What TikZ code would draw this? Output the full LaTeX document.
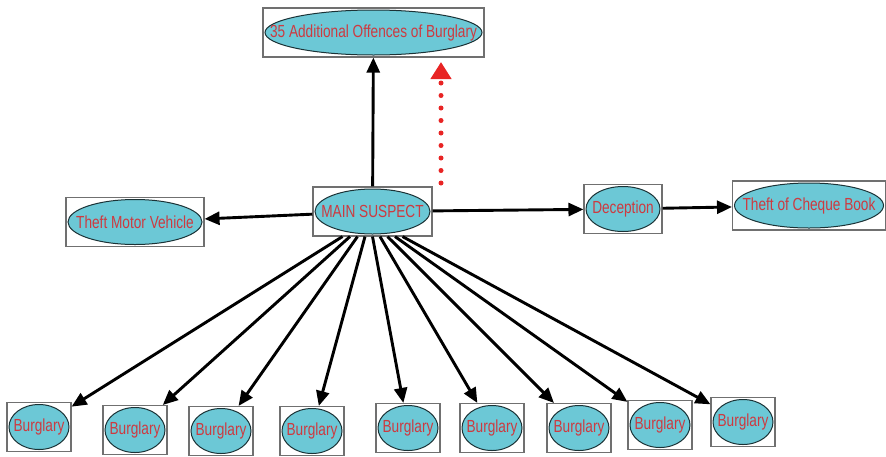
\documentclass[tikz,border=0pt]{standalone}
\usepackage{fontspec}
\setmainfont{Liberation Sans}
\usepackage{tikz}
\usetikzlibrary{arrows.meta}

\definecolor{ellcyan}{RGB}{108,200,214}
\definecolor{lblred}{RGB}{205,58,64}
\definecolor{dotred}{RGB}{232,36,36}
\definecolor{boxgray}{RGB}{112,112,112}
\newcommand\narrow[1]{\scalebox{0.78}[1]{#1}}

\begin{document}
\begin{tikzpicture}[x=1pt,y=-1pt,>={Triangle[length=15pt,width=13pt]},
    crime/.style={draw=boxgray,line width=1.1pt,minimum width=#1,minimum height=49pt,
      inner sep=0pt,font=\fontsize{17.5}{19}\selectfont,text=lblred,
      path picture={\draw[fill=ellcyan,draw=black!75!ellcyan,line width=1pt]
        (path picture bounding box.center) ellipse [x radius=#1/2-2pt,y radius=22.5pt];}},
    link/.style={->,line width=2.9pt},
    dotarrow/.style={dotred,line width=5pt,line cap=round,dash pattern=on 0pt off 12.5pt,
      -{Triangle[length=17pt,width=20pt]}}]
  \useasboundingbox (0,0) rectangle (886,456);

  \node[crime=221pt] (top)  at (373.5,32.5) {\narrow{35 Additional Offences of Burglary}};
  \node[crime=119pt] (main) at (372.5,211.5) {\narrow{MAIN SUSPECT}};
  \node[crime=138pt] (tmv)  at (135,222) {\narrow{Theft Motor Vehicle}};
  \node[crime=78pt]  (dec)  at (623,209) {\narrow{Deception}};
  \node[crime=153pt] (chq)  at (809,205.5) {\narrow{Theft of Cheque Book}};

  % the burglaries along the bottom
  \foreach \i/\x/\y in {1/39/427,2/135/430,3/221/431,4/312/431,5/408/428,
                        6/492/428,7/579/428,8/660/425,9/743/422}
    \node[crime=64pt] (b\i) at (\x,\y) {\narrow{Burglary}};

  \path[link] (main) edge (top)
              (main) edge (tmv)
              (main) edge (dec)
              (dec)  edge (chq);
  \foreach \i/\s in {1/-30,2/-22.5,3/-15,4/-7.5,5/0,6/7.5,7/15,8/22.5,9/30}
    \draw[link] ([xshift=\s pt]main.south) -- (b\i);

  \coordinate (dotlow) at (441,183);
  \coordinate (dottop) at (441,62);
  \draw[dotarrow] (dotlow) -- (dottop);
\end{tikzpicture}
\end{document}
